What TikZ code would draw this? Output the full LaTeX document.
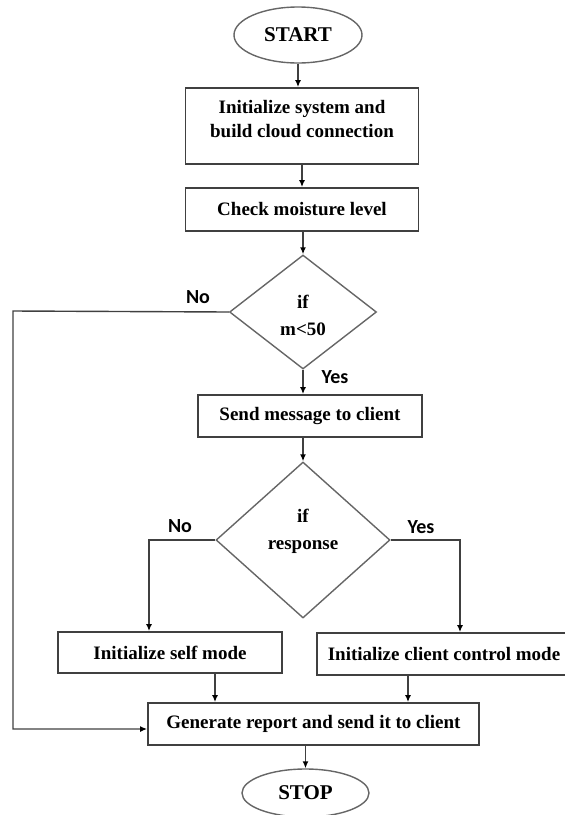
\documentclass[tikz,border=0pt]{standalone}
\usepackage{fontspec}
\setmainfont{Liberation Serif}
\newfontfamily\lblfont{Carlito}
\usetikzlibrary{shapes.geometric,arrows.meta}

\begin{document}
\begin{tikzpicture}[x=1pt,y=-1pt]
 \tikzset{
  flowbox/.style={draw=black!75,line width=1.8pt,rectangle,inner sep=0pt,
   font=\fontsize{19}{24}\selectfont\bfseries,align=center},
  boxtxt/.style={inner sep=0pt,font=\fontsize{19}{24}\selectfont\bfseries,align=center},
  term/.style={draw=black!60,line width=1.4pt,ellipse,inner sep=0pt,
   font=\fontsize{21}{24}\selectfont\bfseries},
  cond/.style={draw=black!60,line width=1.4pt,diamond,inner sep=0pt},
  condtxt/.style={inner sep=0pt,font=\fontsize{19}{27}\selectfont\bfseries,align=center},
  lbl/.style={inner sep=0pt,font=\lblfont\fontsize{20}{22}\selectfont\bfseries},
  flow/.style={draw=black!75,line width=1.4pt,-{Latex[length=7pt,width=6pt,black]}}}
 \useasboundingbox(0,0)rectangle(565,815);
 \node[term,minimum width=128pt,minimum height=56pt](start) at (298,35){START};
 \node[flowbox,minimum width=233pt,minimum height=76pt](init) at (302,126){};
 \node[boxtxt](inittxt) at (302,119){Initialize system and\\build cloud connection};
 \node[flowbox,minimum width=233pt,minimum height=43pt](check) at (302,209.5){Check moisture level};
 \node[cond,minimum width=147pt,minimum height=114pt](ifm) at (303,312){};
 \node[condtxt](ifmtxt) at (303,315){if\\m<50};
 \node[flowbox,minimum width=224pt,minimum height=42pt](send) at (310,416){Send message to client};
 \node[cond,minimum width=174pt,minimum height=156pt](resp) at (303,540){};
 \node[condtxt](resptxt) at (303,531){if\\response};
 \node[flowbox,minimum width=224pt,minimum height=41pt](self) at (170,652.5){Initialize self mode};
 \node[flowbox,minimum width=254pt,minimum height=42pt](client) at (444,654){Initialize client control mode};
 \node[flowbox,minimum width=331pt,minimum height=42pt](gen) at (313.5,724){Generate report and send it to client};
 \node[term,minimum width=127pt,minimum height=48pt](stop) at (305.5,793){STOP};
 \node[lbl](no1) at (198,297){No};
 \node[lbl](yes1) at (335,377){Yes};
 \node[lbl](no2) at (180,526){No};
 \node[lbl](yes2) at (421,527){Yes};
 \coordinate(back) at (13,311);
 \coordinate(selfout) at ([xshift=45pt]self.south);
 \coordinate(clientout) at ([xshift=-36pt]client.south);
 \draw[flow](start.south)--(start.south|-init.north);
 \draw[flow](init.south)--(init.south|-check.north);
 \draw[flow](check.south-|ifm.north)--(ifm.north);
 \draw[flow](ifm.south)--(ifm.south|-send.north);
 \draw[flow](send.south-|resp.north)--(resp.north);
 \draw[flow](ifm.west)--(back)|-([yshift=-5pt]gen.west);
 \draw[flow](resp.west)-|([xshift=-21pt]self.north);
 \draw[flow](resp.east)-|([xshift=16pt]client.north);
 \draw[flow](selfout)--(selfout|-gen.north);
 \draw[flow](clientout)--(clientout|-gen.north);
 \draw[flow](stop.north|-gen.south)--(stop.north);
\end{tikzpicture}
\end{document}
